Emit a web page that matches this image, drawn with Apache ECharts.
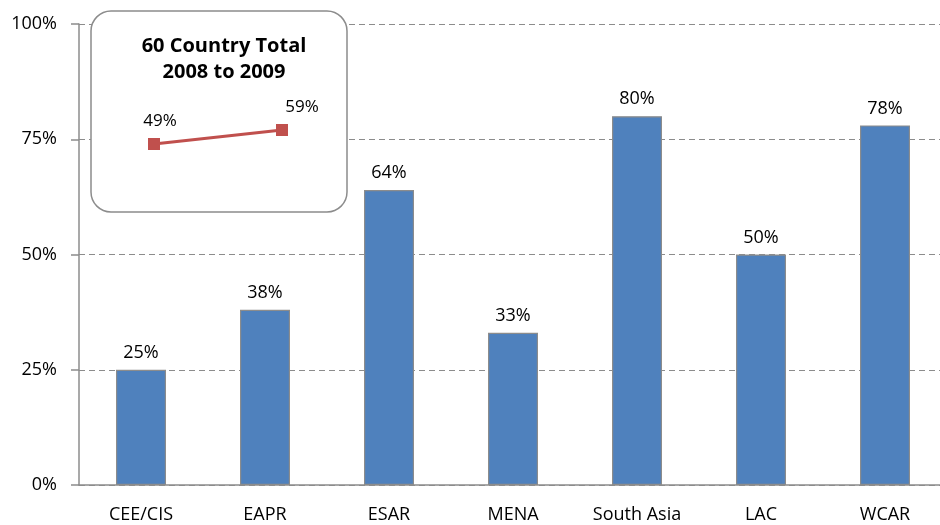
<!DOCTYPE html>
<html>
<head>
<meta charset="utf-8">
<title>Regional results</title>
<script src="https://cdn.jsdelivr.net/npm/echarts@6/dist/echarts.min.js"></script>
<style>
  html, body { margin: 0; padding: 0; background: #fff; }
  #chart { width: 940px; height: 525px; }
</style>
</head>
<body>
<div id="chart"></div>
<script>
// 区域数据
const categories = ['CEE/CIS', 'EAPR', 'ESAR', 'MENA', 'South Asia', 'LAC', 'WCAR'];
const values = [25, 38, 64, 33, 80, 50, 78];
const yTicks = [0, 25, 50, 75, 100];

// 小图：60国合计
const insetYears = ['2008', '2009'];
const insetValues = [49, 59];
const insetTitle = '60 Country Total\n2008 to 2009';

const font = '"Open Sans", "Noto Sans", sans-serif';
const chart = echarts.init(document.getElementById('chart'));

// 两个点标签的偏移
const insetOffsets = [[6, 0], [20, 0]];

chart.setOption({
  animation: false,
  textStyle: { fontFamily: font },
  grid: [
    // 主图，右边超出画布一点
    { left: 79, width: 868, top: 24, bottom: 40, outerBoundsMode: 'none' },
    // 小图的坐标区
    { left: 154, width: 128, top: 72.6, height: 140, outerBoundsMode: 'none' },
  ],
  xAxis: [
    {
      type: 'category',
      data: categories,
      axisLine: { lineStyle: { color: '#8c8c8c', width: 1.5 } },
      axisTick: { length: 5, lineStyle: { color: '#8c8c8c', width: 1.5 } },
      axisLabel: { color: '#000', fontSize: 18, margin: 21 },
    },
    {
      type: 'category',
      gridIndex: 1,
      data: insetYears,
      boundaryGap: false,
      show: false,
    },
  ],
  yAxis: [
    {
      type: 'value',
      min: 0,
      max: 100,
      interval: 25,
      axisLine: { show: true, lineStyle: { color: '#8c8c8c', width: 1.5 } },
      axisTick: { show: true, length: 8, lineStyle: { color: '#8c8c8c', width: 1.5 } },
      axisLabel: {
        color: '#000',
        fontSize: 18,
        margin: 22,
        formatter: (v) => (yTicks.includes(v) ? v + '%' : ''),
      },
      splitLine: { lineStyle: { color: '#8c8c8c', type: [6, 4], width: 1.2 } },
    },
    {
      type: 'value',
      gridIndex: 1,
      min: 0,
      max: 100,
      show: false,
    },
  ],
  graphic: [
    {
      type: 'rect',
      z: 5,
      shape: { x: 91, y: 11, width: 256, height: 201, r: 20 },
      style: { fill: '#fff', stroke: '#8c8c8c', lineWidth: 1.5 },
    },
    {
      type: 'text',
      z: 6,
      x: 224,
      y: 33,
      style: {
        text: insetTitle,
        fontFamily: font,
        fontSize: 20,
        fontWeight: 'bold',
        fill: '#000',
        align: 'center',
        lineHeight: 26,
      },
    },
  ],
  series: [
    {
      type: 'bar',
      data: values,
      barWidth: 50,
      itemStyle: { color: '#4F81BD', borderColor: '#8c8c8c', borderWidth: 1.2 },
      label: {
        show: true,
        position: 'top',
        distance: 8,
        color: '#000',
        fontSize: 18,
        formatter: '{c}%',
      },
    },
    {
      type: 'line',
      xAxisIndex: 1,
      yAxisIndex: 1,
      z: 10,
      data: insetValues.map((v, i) => ({
        value: v,
        label: { offset: insetOffsets[i] },
      })),
      symbol: 'rect',
      symbolSize: 12,
      lineStyle: { color: '#C0504D', width: 3 },
      itemStyle: { color: '#C0504D' },
      label: {
        show: true,
        position: 'top',
        distance: 8,
        color: '#000',
        fontSize: 17,
        formatter: '{c}%',
      },
    },
  ],
});
</script>
</body>
</html>
